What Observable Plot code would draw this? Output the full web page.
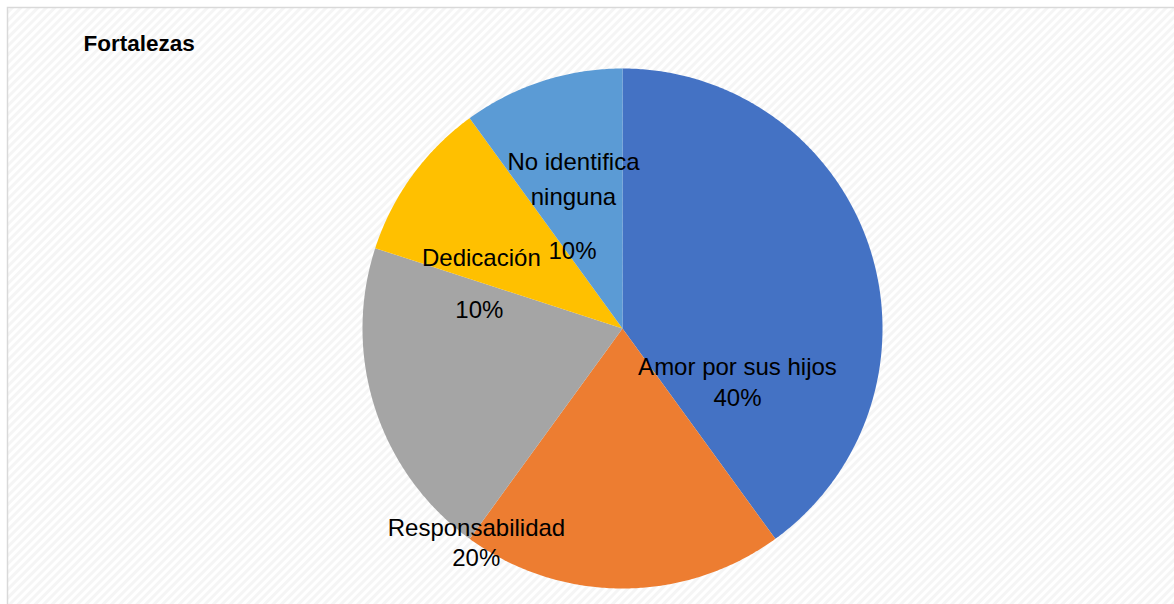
<!DOCTYPE html>
<html><head><meta charset="utf-8">
<script src="https://cdn.jsdelivr.net/npm/d3@7"></script>
<script src="https://cdn.jsdelivr.net/npm/@observablehq/plot@0.6"></script>
<style>body{margin:0;background:#fff;overflow:hidden} #chart svg{display:block}</style>
</head><body><div id="chart"></div>
<script>
// ---- data ----
const title = "Fortalezas";
const categories = ["Amor por sus hijos", "Responsabilidad", "Otra", "Dedicación", "No identifica ninguna"];
const values = [40, 20, 20, 10, 10];
const colors = ["#4472C4", "#ED7D31", "#A5A5A5", "#FFC000", "#5B9BD5"];
const labelNames = ["Amor por sus hijos", "Responsabilidad", "", "Dedicación", "No identifica\nninguna"];
const labelPercents = ["40%", "20%", "", "10%", "10%"];

// ---- label layout (polar: angle clockwise from top in degrees, radius as fraction of pie radius) ----
const nameLayout = [[107.2, 0.463], [216.6, 0.942], null, [297.5, 0.612], [342.1, 0.614]];
const pctLayout  = [[121.2, 0.517], [212.5, 1.047], null, [277.3, 0.555], [327.1, 0.354]];

const W = 1174, H = 604;
const cx = 622, cy = 328, R = 260;

// build slice polygons from values
const total = d3.sum(values);
const slices = [];
let acc = 0;
values.forEach((v, i) => {
  const a0 = acc / total * 360, a1 = (acc + v) / total * 360;
  acc += v;
  slices.push({cat: categories[i], x: 0, y: 0});
  const n = Math.max(2, Math.ceil(a1 - a0) * 2);
  for (let k = 0; k <= n; k++) {
    const a = (a0 + (a1 - a0) * k / n) * Math.PI / 180;
    slices.push({cat: categories[i], x: R * Math.sin(a), y: R * Math.cos(a)});
  }
});

function polar(l) {
  const a = l[0] * Math.PI / 180;
  return {x: l[1] * R * Math.sin(a), y: l[1] * R * Math.cos(a)};
}
const nameLabels = [], pctLabels = [];
categories.forEach((c, i) => {
  if (nameLayout[i]) nameLabels.push({text: labelNames[i], ...polar(nameLayout[i])});
  if (pctLayout[i]) pctLabels.push({text: labelPercents[i], ...polar(pctLayout[i])});
});

const font = "Liberation Sans, Arial, sans-serif";

const plot = Plot.plot({
  width: W, height: H,
  margin: 0,
  x: {domain: [-cx, W - cx], axis: null},
  y: {domain: [-(H - cy), cy], axis: null},
  color: {domain: categories, range: colors},
  style: {fontFamily: font, background: "#fff"},
  marks: [
    Plot.frame({fill: "url(#hatch)", stroke: "#d9d9d9", strokeWidth: 1.5, insetLeft: 7, insetTop: 7, insetRight: -10, insetBottom: -10}),
    Plot.line(slices, {x: "x", y: "y", z: "cat", fill: "cat", stroke: null, curve: "linear-closed"}),
    Plot.text([title], {frameAnchor: "top-left", dx: 83, dy: 43, textAnchor: "start", lineAnchor: "middle", fontWeight: "bold", fontSize: 22.5, fill: "#000"}),
    Plot.text(nameLabels, {x: "x", y: "y", text: "text", fontSize: 24, lineHeight: 1.46, lineAnchor: "middle", fill: "#000"}),
    Plot.text(pctLabels, {x: "x", y: "y", text: "text", fontSize: 24, lineAnchor: "middle", fill: "#000"})
  ]
});

// hatch pattern for chart area background
const defs = d3.select(plot).insert("defs", ":first-child");
const pat = defs.append("pattern").attr("id", "hatch").attr("patternUnits", "userSpaceOnUse")
  .attr("width", 6).attr("height", 6).attr("patternTransform", "rotate(45)");
pat.append("rect").attr("width", 6).attr("height", 6).attr("fill", "#ffffff");
pat.append("rect").attr("width", 3).attr("height", 6).attr("fill", "#f5f5f5");

document.getElementById("chart").appendChild(plot);
</script>
</body></html>
